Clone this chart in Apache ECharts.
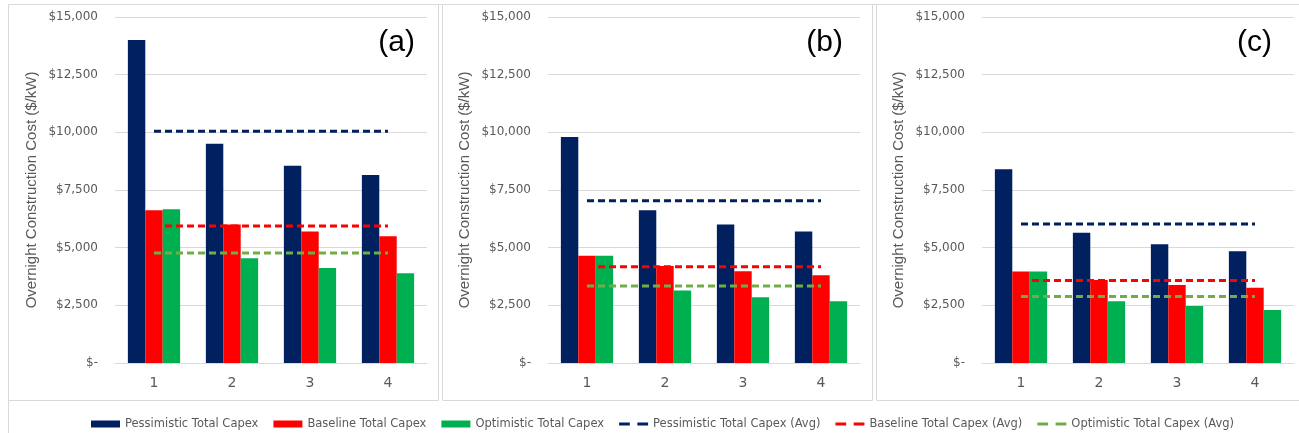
<!DOCTYPE html>
<html>
<head>
<meta charset="utf-8">
<script src="https://cdn.jsdelivr.net/npm/echarts@6/dist/echarts.min.js"></script>
<style>
  html, body { margin: 0; padding: 0; background: #fff; }
  #main { width: 1299px; height: 433px; }
</style>
</head>
<body>
<div id="main"></div>
<script>
// categories and tick values
var categories = ['1', '2', '3', '4'];
var yTicks = [0, 2500, 5000, 7500, 10000, 12500, 15000];
var panelLabels = ['(a)', '(b)', '(c)'];

// panel (a)
var pessimisticA = [14000, 9500, 8550, 8150];
var baselineA = [6620, 6000, 5700, 5500];
var optimisticA = [6670, 4540, 4120, 3890];
var pessimisticAvgA = [10050, 10050, 10050, 10050];
var baselineAvgA = [5940, 5940, 5940, 5940];
var optimisticAvgA = [4770, 4770, 4770, 4770];

// panel (b)
var pessimisticB = [9800, 6620, 6000, 5700];
var baselineB = [4650, 4200, 3980, 3800];
var optimisticB = [4650, 3140, 2850, 2680];
var pessimisticAvgB = [7030, 7030, 7030, 7030];
var baselineAvgB = [4170, 4170, 4170, 4170];
var optimisticAvgB = [3340, 3340, 3340, 3340];

// panel (c)
var pessimisticC = [8400, 5650, 5150, 4850];
var baselineC = [3970, 3600, 3380, 3260];
var optimisticC = [3970, 2680, 2470, 2300];
var pessimisticAvgC = [6030, 6030, 6030, 6030];
var baselineAvgC = [3580, 3580, 3580, 3580];
var optimisticAvgC = [2880, 2880, 2880, 2880];

var panels = [
    { bars: [pessimisticA, baselineA, optimisticA], avgs: [pessimisticAvgA, baselineAvgA, optimisticAvgA] },
    { bars: [pessimisticB, baselineB, optimisticB], avgs: [pessimisticAvgB, baselineAvgB, optimisticAvgB] },
    { bars: [pessimisticC, baselineC, optimisticC], avgs: [pessimisticAvgC, baselineAvgC, optimisticAvgC] }
];

var barNames = ['Pessimistic Total Capex', 'Baseline Total Capex', 'Optimistic Total Capex'];
var avgNames = ['Pessimistic Total Capex (Avg)', 'Baseline Total Capex (Avg)', 'Optimistic Total Capex (Avg)'];
var barColors = ['#002060', '#FF0000', '#00B050'];
var avgColors = ['#002060', '#FF0000', '#70AD47'];

var gridLefts = [115, 548, 982];
var labelRights = [420, 848, 1277];
var boxLefts = [8, 442, 876];

var chart = echarts.init(document.getElementById('main'), null, { renderer: 'canvas' });

var grids = [], xAxes = [], yAxes = [], series = [], titles = [], graphics = [];

// outer frame
graphics.push({
    type: 'rect', silent: true,
    shape: { x: 8.5, y: 4.5, width: 1310, height: 440 },
    style: { fill: 'none', stroke: '#d9d9d9', lineWidth: 1 }
});

panels.forEach(function (p, i) {
    grids.push({ left: gridLefts[i], top: 17, width: 312, height: 346 });

    xAxes.push({
        type: 'category',
        gridIndex: i,
        data: categories,
        axisLine: { lineStyle: { color: '#d9d9d9', width: 1 } },
        axisTick: { show: false },
        axisLabel: { color: '#595959', fontFamily: 'DejaVu Sans', fontSize: 14, margin: 13 }
    });

    yAxes.push({
        type: 'value',
        gridIndex: i,
        min: yTicks[0],
        max: yTicks[yTicks.length - 1],
        interval: yTicks[1] - yTicks[0],
        name: 'Overnight Construction Cost ($/kW)',
        nameLocation: 'middle',
        nameRotate: 90,
        nameGap: 76,
        nameTextStyle: { color: '#595959', fontFamily: 'Liberation Sans', fontSize: 15 },
        axisLine: { show: false },
        axisTick: { show: false },
        splitLine: { lineStyle: { color: '#d9d9d9', width: 1 } },
        axisLabel: {
            color: '#595959', fontFamily: 'DejaVu Sans', fontSize: 12, margin: 17,
            formatter: function (v) {
                return v === 0 ? '$-' : '$' + v.toLocaleString('en-US');
            }
        }
    });

    p.bars.forEach(function (d, k) {
        series.push({
            name: barNames[k],
            type: 'bar',
            xAxisIndex: i,
            yAxisIndex: i,
            data: d,
            barGap: 0,
            barCategoryGap: '33%',
            itemStyle: { color: barColors[k] },
            z: 2
        });
    });

    p.avgs.forEach(function (d, k) {
        series.push({
            name: avgNames[k],
            type: 'line',
            xAxisIndex: i,
            yAxisIndex: i,
            data: d,
            symbol: 'none',
            lineStyle: { color: avgColors[k], width: 3, type: [7, 4] },
            itemStyle: { color: avgColors[k] },
            z: 5
        });
    });

    titles.push({
        text: panelLabels[i],
        right: 1299 - labelRights[i],
        top: 23,
        textStyle: { fontFamily: 'Liberation Sans', fontSize: 30, fontWeight: 'normal', color: '#000' }
    });

    graphics.push({
        type: 'rect', silent: true,
        shape: { x: boxLefts[i] + 0.5, y: 4.5, width: 430, height: 396 },
        style: { fill: 'none', stroke: '#d9d9d9', lineWidth: 1 }
    });
});

// two short dashes as the legend mark of the average lines
var dashIcon = 'path://M0,0H10V3H0Z M17,0H27V3H17Z';

var legendData = barNames.map(function (n) { return { name: n, icon: 'rect' }; })
    .concat(avgNames.map(function (n) { return { name: n, icon: dashIcon }; }));

chart.setOption({
    animation: false,
    title: titles,
    grid: grids,
    xAxis: xAxes,
    yAxis: yAxes,
    series: series,
    graphic: graphics,
    legend: {
        data: legendData,
        left: 86,
        top: 413,
        itemWidth: 29,
        itemHeight: 7,
        itemGap: 15,
        textStyle: { color: '#595959', fontFamily: 'DejaVu Sans', fontSize: 11.5 }
    }
});
</script>
</body>
</html>
